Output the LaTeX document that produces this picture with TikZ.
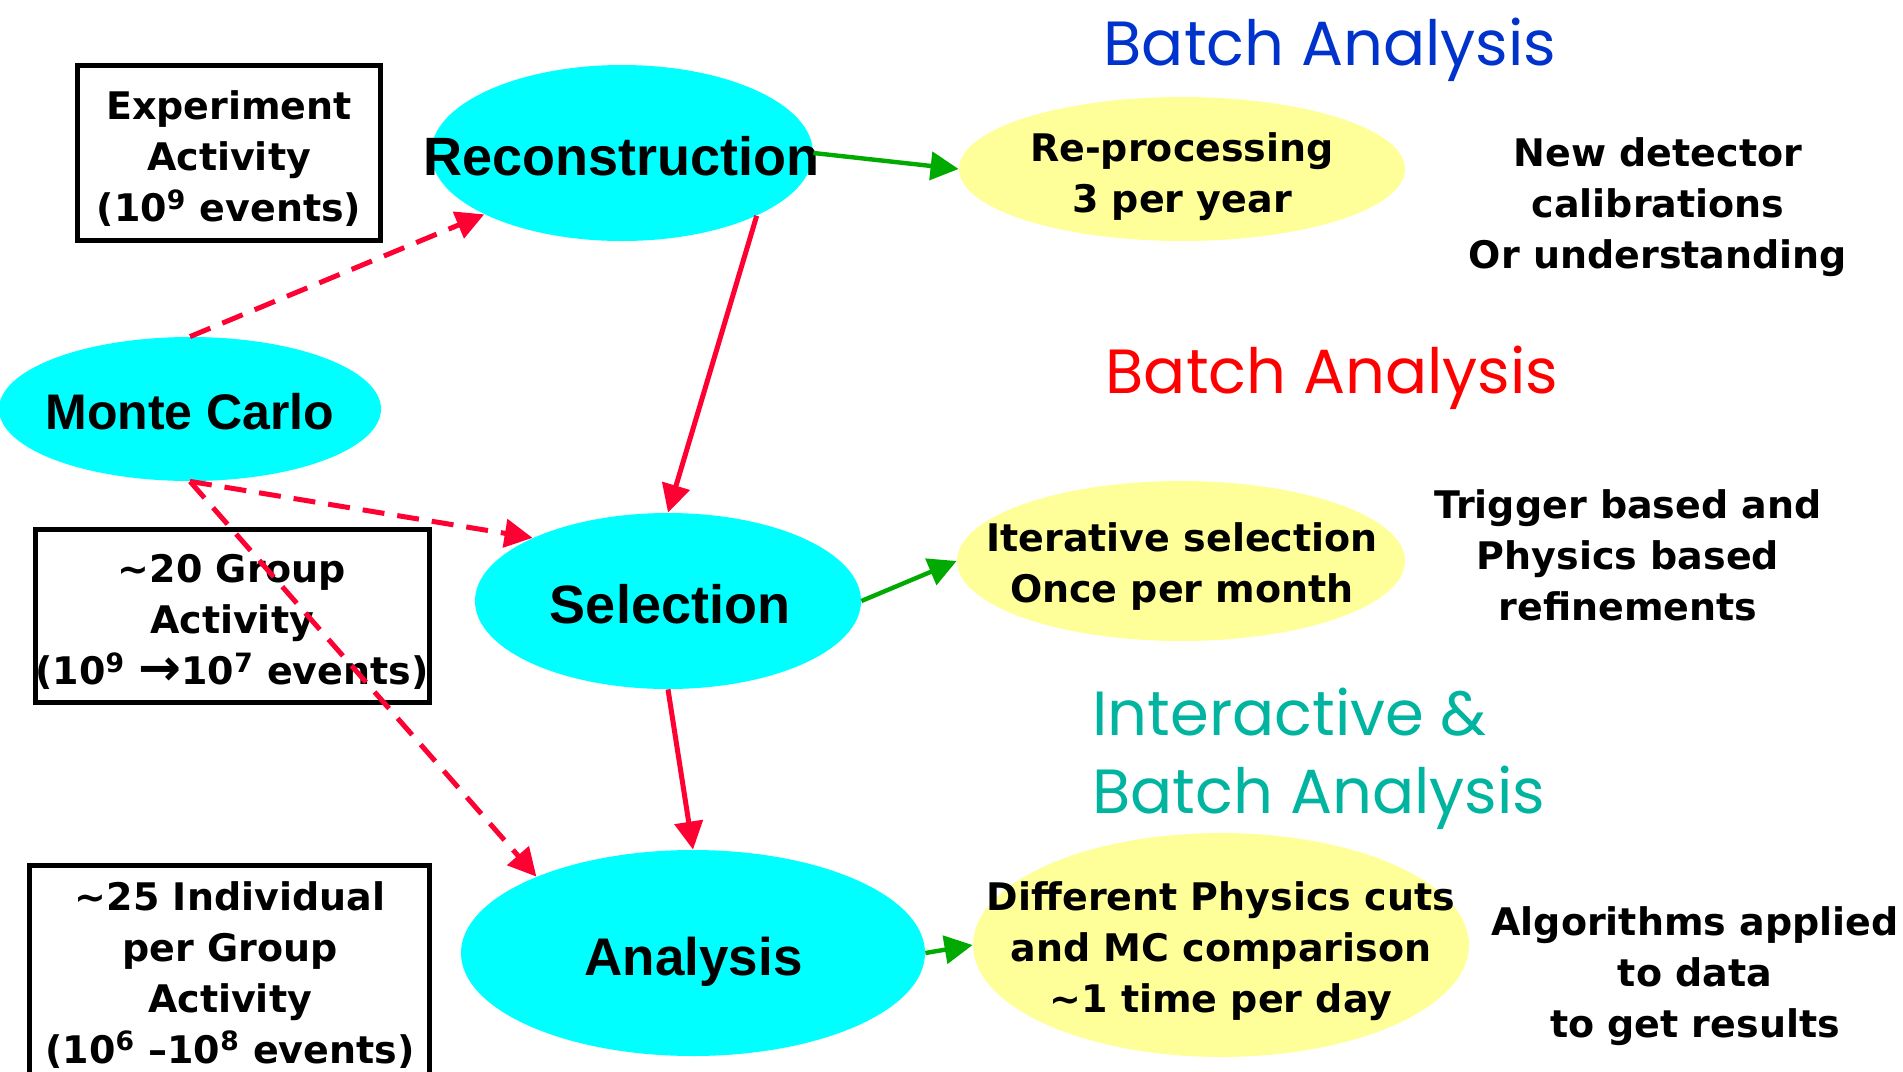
\documentclass[tikz,border=0pt]{standalone}
\usepackage{fontspec}
\setmainfont{DejaVu Sans}
\newfontfamily\arialfont{Liberation Sans}
\newfontfamily\comicfont{Poppins}
\usetikzlibrary{arrows.meta,shapes.geometric}
\definecolor{cyanfill}{HTML}{00FFFF}
\definecolor{yellowfill}{HTML}{FFFF99}
\definecolor{titleblue}{HTML}{0033CC}
\definecolor{titlered}{HTML}{FF0000}
\definecolor{titleteal}{HTML}{00B4A0}
\definecolor{arrowred}{HTML}{FF0033}
\definecolor{arrowgreen}{HTML}{00AA00}
\tikzset{
  stageell/.style={ellipse, fill=cyanfill, draw=none, inner sep=0pt},
  infoell/.style={ellipse, fill=yellowfill, draw=none, inner sep=0pt},
  frame/.style={rectangle, draw=black, line width=2.5pt, inner sep=0pt},
  txt/.style={font=\bfseries\fontsize{19}{25.5}\selectfont, align=center, inner sep=0pt, text=black},
  biglabel/.style={font=\arialfont\bfseries\fontsize{27}{32}\selectfont, inner sep=0pt, anchor=base, text=black},
  titletxt/.style={font=\comicfont\fontsize{31.2}{40}\selectfont, inner sep=0pt},
  redarrow/.style={draw=arrowred, line width=2.5pt, -{Triangle[length=14pt,width=14pt]}},
  reddash/.style={redarrow, dash pattern=on 11pt off 6.5pt},
  greenarrow/.style={draw=arrowgreen, line width=2.2pt, -{Triangle[length=14pt,width=14pt]}}
}
\begin{document}
\begin{tikzpicture}[x=0.5pt,y=-0.5pt]
\useasboundingbox (0,0) rectangle (1903,1072);
\fill[white] (0,0) rectangle (1903,1072);

% ellipses
\node[stageell, minimum width=191pt, minimum height=72pt] (mc) at (190,409) {};
\node[stageell, minimum width=191pt, minimum height=88pt] (rec) at (622,153) {};
\node[stageell, minimum width=193pt, minimum height=88pt] (sel) at (668,601) {};
\node[stageell, minimum width=232pt, minimum height=103pt] (ana) at (693,953) {};
\node[infoell, minimum width=223pt, minimum height=72pt] (rp) at (1182,169) {};
\node[infoell, minimum width=224pt, minimum height=80pt] (it) at (1181,561) {};
\node[infoell, minimum width=248pt, minimum height=112pt] (dp) at (1221,945) {};

% boxes
\node[frame, minimum width=151.5pt, minimum height=87.5pt] (expbox) at (229,153) {};
\node[frame, minimum width=197pt, minimum height=86.5pt] (grpbox) at (232.5,616) {};
\node[frame, minimum width=200pt, minimum height=106.5pt] (indbox) at (229.5,972) {};

% box texts
\node[txt] (exptxt) at (229,159) {Experiment\\Activity\\(10\textsuperscript{9} events)};
\node[txt] (grptxt) at (232,622) {\textasciitilde20 Group\\Activity\\(10\textsuperscript{9} \raisebox{-0.5pt}{\scalebox{1.35}{→}}10\textsuperscript{7} events)};
\node[txt] (indtxt) at (230,975) {\textasciitilde25 Individual\\per Group\\Activity\\(10\textsuperscript{6} –10\textsuperscript{8} events)};

% stage labels
\node[biglabel, font=\arialfont\bfseries\fontsize{25}{30}\selectfont] (mclab) at (190,429) {Monte Carlo};
\node[biglabel] (reclab) at (621.5,175) {Reconstruction};
\node[biglabel] (sellab) at (670,623) {Selection};
\node[biglabel, font=\arialfont\bfseries\fontsize{26.5}{30}\selectfont] (analab) at (693.5,975) {Analysis};

% info texts
\node[txt] (rptxt) at (1182,177) {Re-processing\\3 per year};
\node[txt] (ittxt) at (1182,567) {Iterative selection\\Once per month};
\node[txt] (dptxt) at (1221,951) {Different Physics cuts\\and MC comparison\\\textasciitilde1 time per day};

% right texts
\node[txt] (note1) at (1658,207) {New detector\\calibrations\\Or understanding};
\node[txt] (note2) at (1628,555) {Trigger based and\\Physics based\\refinements};
\node[txt] (note3) at (1695,976) {Algorithms applied\\to data\\to get results};

% titles
\node[titletxt, text=titleblue, anchor=base] (t1) at (1330,65) {Batch Analysis};
\node[titletxt, text=titlered, anchor=base] (t2) at (1332,393) {Batch Analysis};
\node[titletxt, text=titleteal, anchor=base west] (t3a) at (1092,735) {Interactive \&};
\node[titletxt, text=titleteal, anchor=base west] (t3b) at (1092,813) {Batch Analysis};

% connectors
\draw[reddash] (mc.north) -- (rec.204);
\draw[reddash] (mc.south) -- (sel.155.7);
\draw[reddash] (mc.south) -- (ana.154.7);
\draw[redarrow] (rec.335) -- (sel.north);
\draw[redarrow] (sel.south) -- (ana.north);
\draw[greenarrow] (rec.east) -- (rp.west);
\draw[greenarrow] (sel.east) -- (it.west);
\draw[greenarrow] (ana.east) -- (dp.west);
\end{tikzpicture}
\end{document}
